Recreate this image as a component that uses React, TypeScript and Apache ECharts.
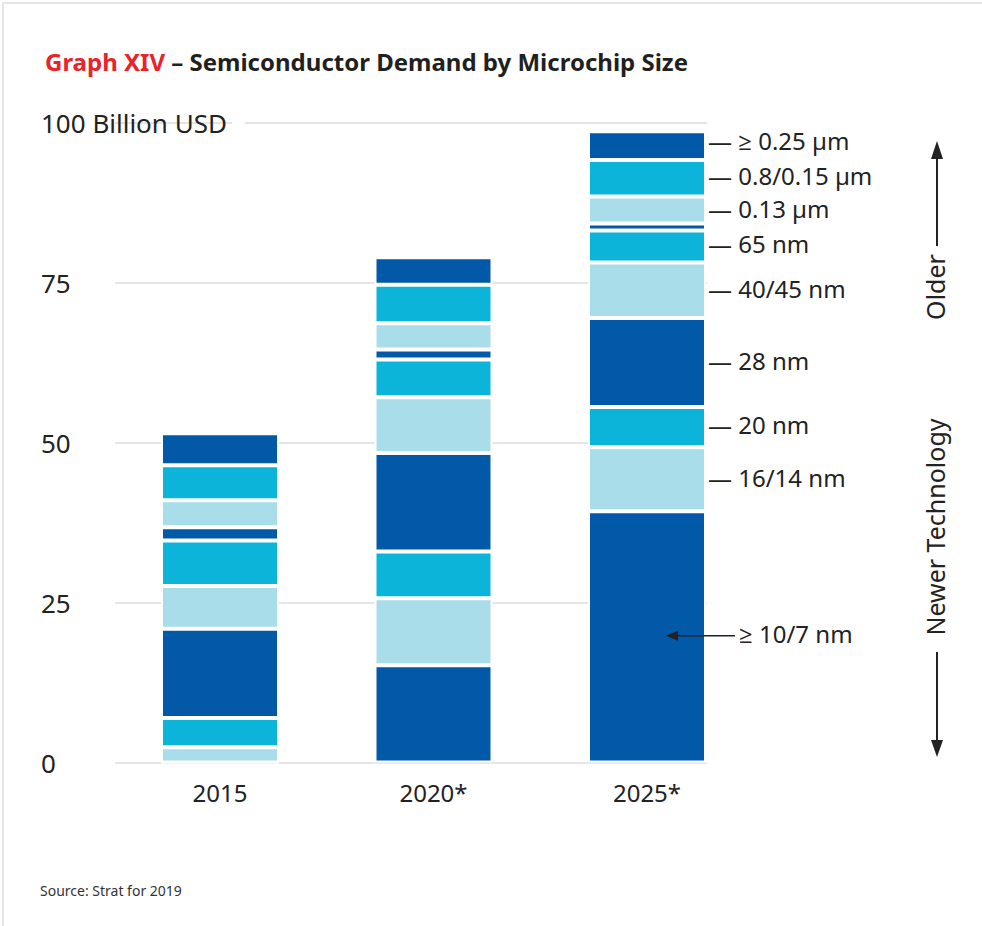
import React, { useEffect, useRef } from "react";
import * as echarts from "echarts";

const years = ["2015", "2020*", "2025*"];
const yTicks = [0, 25, 50, 75, 100];

// stacked from bottom to top
const seriesNames = [
  "≥ 10/7 nm",
  "16/14 nm",
  "20 nm",
  "28 nm",
  "40/45 nm",
  "65 nm",
  "",
  "0.13 µm",
  "0.8/0.15 µm",
  "≥ 0.25 µm",
];
const nm10_7 = [0, 15.2, 39.3];
const nm16_14 = [2.4, 10.5, 10.0];
const nm20 = [4.55, 7.3, 6.3];
const nm28 = [13.95, 15.4, 13.9];
const nm40_45 = [6.7, 8.7, 8.7];
const nm65 = [7.1, 5.9, 5.0];
const nm90 = [2.1, 1.6, 1.1];
const um013 = [4.2, 4.1, 4.2];
const um08_015 = [5.5, 6.0, 5.7];
const um025 = [5.0, 4.3, 4.5];
const seriesValues = [nm10_7, nm16_14, nm20, nm28, nm40_45, nm65, nm90, um013, um08_015, um025];

const DARK = "#0159A8";
const CYAN = "#0CB4D9";
const LIGHT = "#A9DDE9";
const seriesColors = [DARK, LIGHT, CYAN, DARK, LIGHT, CYAN, DARK, LIGHT, CYAN, DARK];

const FONT = "'Noto Sans', 'Open Sans', sans-serif";
const TEXT = "#222222";

export default function App() {
  const ref = useRef<HTMLDivElement>(null);

  useEffect(() => {
    document.body.style.margin = "0";
    const chart = echarts.init(ref.current!, null, { renderer: "svg" });

    const labelShift = [-3, -2, -3, -2, -2, -3, 0, -1, -3, -5];

    const series = seriesValues.map((vals, si) => ({
      type: "bar",
      name: seriesNames[si] || "other",
      xAxisIndex: 1,
      yAxisIndex: 1,
      stack: "total",
      barWidth: 118,
      itemStyle: { color: seriesColors[si], borderColor: "#ffffff", borderWidth: 2 },
      data: vals.map((v, i) => {
        if (i !== 2 || !seriesNames[si]) return v;
        const isArrow = si === 0;
        return {
          value: v,
          label: {
            show: true,
            position: "right",
            distance: isArrow ? 33 : 2,
            offset: [0, labelShift[si]],
            formatter: isArrow ? seriesNames[si] : "— " + seriesNames[si],
            fontSize: 24,
            lineHeight: 26,
            color: TEXT,
            fontFamily: FONT,
          },
        };
      }),
    }));

    chart.setOption({
      animation: false,
      backgroundColor: "#ffffff",
      textStyle: { fontFamily: FONT },
      title: {
        left: 40,
        top: 44,
        text: "{r|Graph XIV} – Semiconductor Demand by Microchip Size",
        textStyle: {
          fontSize: 24,
          fontWeight: "bold",
          color: "#231F20",
          fontFamily: FONT,
          rich: {
            r: { fontSize: 24, fontWeight: "bold", color: "#E8232A", fontFamily: FONT },
          },
        },
      },
      grid: [
        { left: 115, right: 275, top: 123, bottom: 163.5 },
        { left: 113.25, right: 228.25, top: 123, bottom: 163.5 },
      ],
      xAxis: [
        { gridIndex: 0, type: "category", data: [], show: false },
        {
          gridIndex: 1,
          type: "category",
          data: years,
          axisLine: { show: false },
          axisTick: { show: false },
          axisLabel: { fontSize: 24, color: TEXT, margin: 18, fontFamily: FONT },
        },
      ],
      yAxis: [
        {
          gridIndex: 0,
          type: "value",
          min: yTicks[0],
          max: yTicks[yTicks.length - 1],
          interval: 25,
          axisLine: { show: false },
          axisTick: { show: false },
          splitLine: { lineStyle: { color: "#dddddd", width: 1.5 } },
          axisLabel: {
            align: "left",
            margin: 74,
            fontSize: 26,
            color: TEXT,
            fontFamily: FONT,
            formatter: (v: number) => (v === 100 ? "100 Billion USD" : String(v)),
          },
        },
        { gridIndex: 1, type: "value", min: 0, max: 100, show: false },
      ],
      series,
    });

    const [cx, cy] = chart.convertToPixel({ xAxisIndex: 1, yAxisIndex: 1 }, [2, nm10_7[2] / 2]) as number[];
    const [, y100] = chart.convertToPixel({ xAxisIndex: 1, yAxisIndex: 1 }, [2, 100]) as number[];
    const tipX = cx + 19;
    const ay = cy - 1;
    const vx = 937;

    chart.setOption({
      graphic: [
        {
          type: "polyline",
          z: 100,
          shape: { points: [[3, 926], [3, 3], [982, 3]] },
          style: { stroke: "#e6e6e6", lineWidth: 2, fill: null },
        },
        {
          type: "rect",
          z: 50,
          shape: { x: 232, y: y100 - 3, width: 13, height: 6 },
          style: { fill: "#ffffff" },
        },
        {
          type: "line",
          z: 60,
          shape: { x1: tipX + 8, y1: ay, x2: cx + 88, y2: ay },
          style: { stroke: TEXT, lineWidth: 1.5 },
        },
        {
          type: "polygon",
          z: 60,
          shape: { points: [[tipX, ay], [tipX + 12, ay - 5], [tipX + 12, ay + 5]] },
          style: { fill: TEXT },
        },
        {
          type: "text",
          z: 60,
          x: 935,
          y: 287,
          rotation: Math.PI / 2,
          style: {
            text: "Older",
            fontSize: 25,
            fontFamily: FONT,
            fill: TEXT,
            align: "center",
            verticalAlign: "middle",
          },
        },
        {
          type: "text",
          z: 60,
          x: 935,
          y: 527,
          rotation: Math.PI / 2,
          style: {
            text: "Newer Technology",
            fontSize: 25,
            fontFamily: FONT,
            fill: TEXT,
            align: "center",
            verticalAlign: "middle",
          },
        },
        {
          type: "line",
          z: 60,
          shape: { x1: vx, y1: 156, x2: vx, y2: 246 },
          style: { stroke: TEXT, lineWidth: 2 },
        },
        {
          type: "polygon",
          z: 60,
          shape: { points: [[vx, 141], [vx - 6, 159], [vx + 6, 159]] },
          style: { fill: TEXT },
        },
        {
          type: "line",
          z: 60,
          shape: { x1: vx, y1: 652, x2: vx, y2: 743 },
          style: { stroke: TEXT, lineWidth: 2 },
        },
        {
          type: "polygon",
          z: 60,
          shape: { points: [[vx, 757], [vx - 6, 740], [vx + 6, 740]] },
          style: { fill: TEXT },
        },
        {
          type: "text",
          z: 60,
          x: 40,
          y: 890,
          style: {
            text: "Source: Strat for 2019",
            fontSize: 14,
            fontFamily: FONT,
            fill: "#333333",
            verticalAlign: "middle",
          },
        },
      ],
    });

    return () => chart.dispose();
  }, []);

  return <div ref={ref} style={{ width: 982, height: 926 }} />;
}
